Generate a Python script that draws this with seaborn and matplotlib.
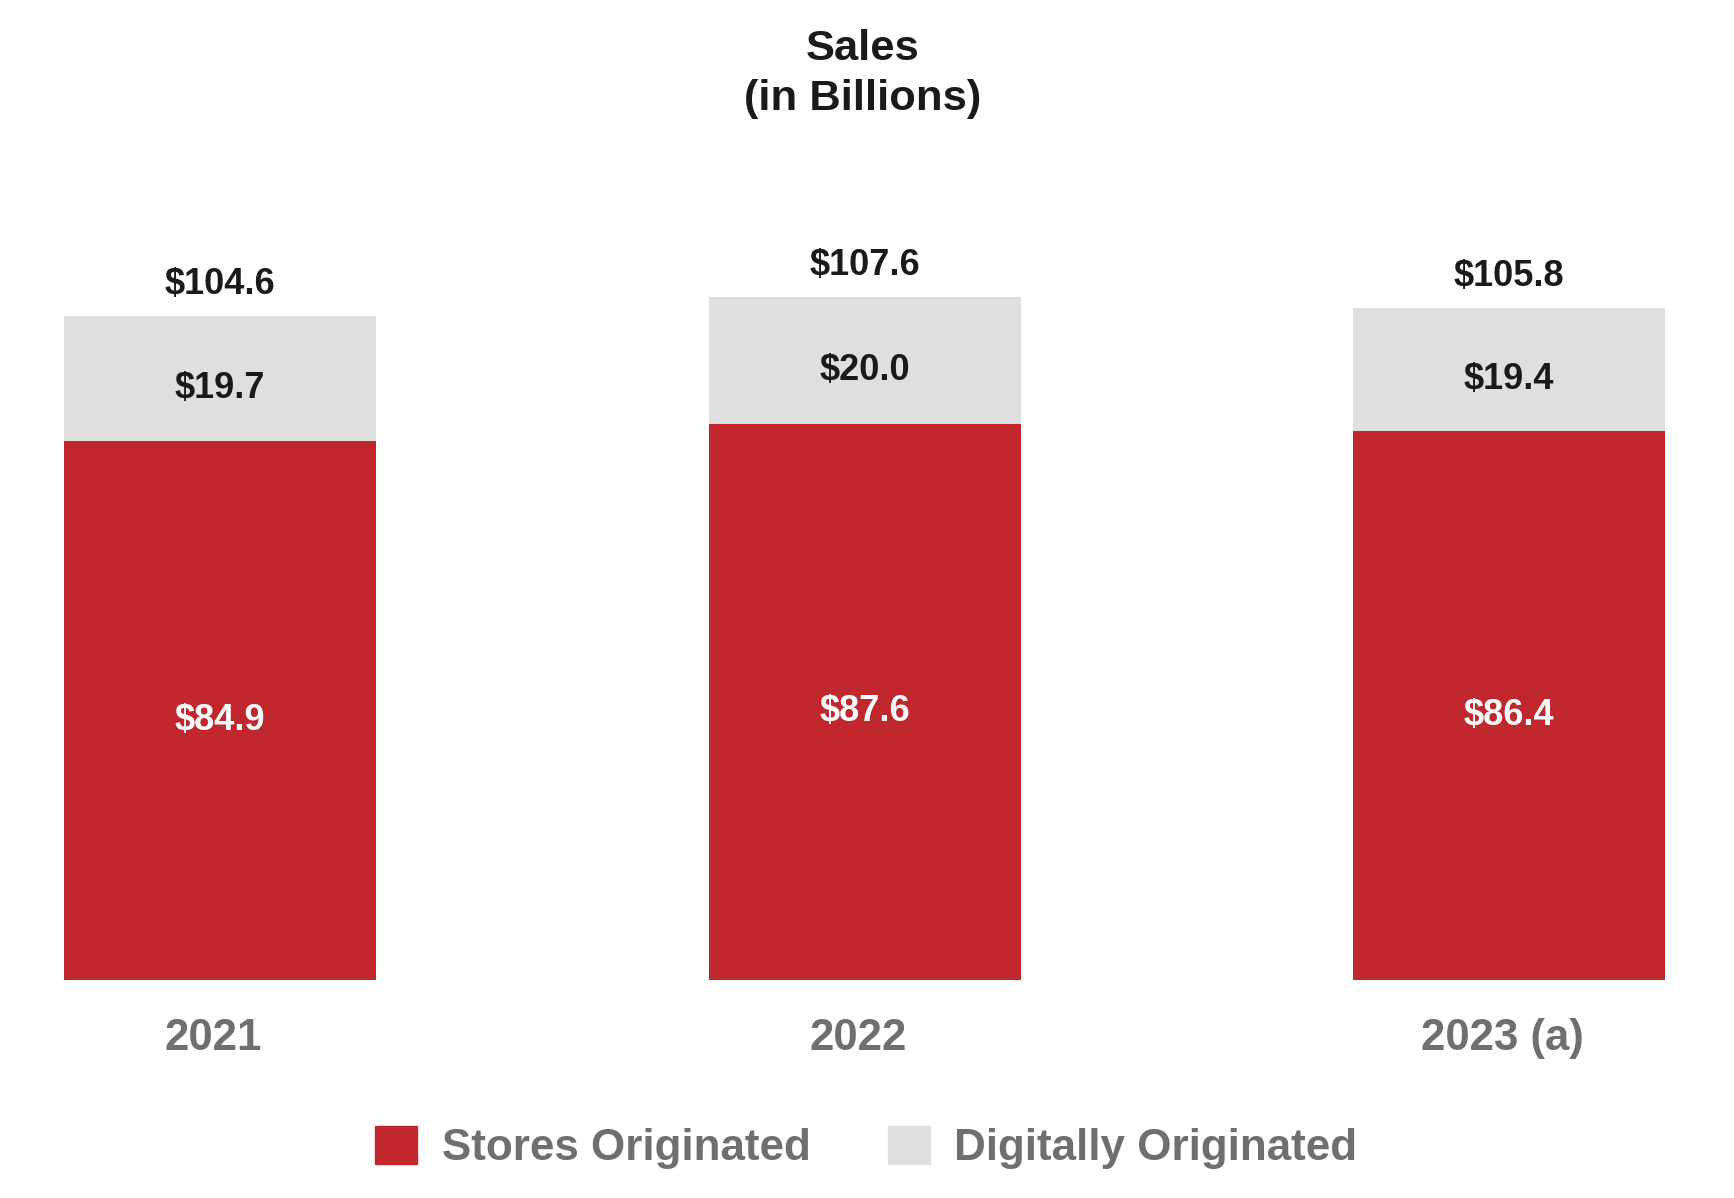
import matplotlib
matplotlib.use("Agg")
import matplotlib.pyplot as plt
import matplotlib.patches as mpatches
import pandas as pd
import seaborn as sns

years = ["2021", "2022", "2023 (a)"]
stores = [84.9, 87.6, 86.4]
digital = [19.7, 20.0, 19.4]
totals = [104.6, 107.6, 105.8]

RED = "#C1282D"
GRAY = "#DFDFDF"
TEXT_GRAY = "#6F6F6F"
TEXT_DARK = "#1A1A1A"

sns.set_style("white")
plt.rcParams["font.family"] = ["Liberation Sans", "DejaVu Sans"]

df = pd.DataFrame({"year": years, "stores": stores, "digital": digital, "total": totals})

fig = plt.figure(figsize=(17.34, 11.98), dpi=100)
ax = fig.add_axes([0.01539, 0.1822, 0.9664, 0.689])

# stacked look: full total bar in gray, stores part drawn over it in red
sns.barplot(data=df, x="year", y="total", color=GRAY, width=0.484, saturation=1,
            linewidth=0, ax=ax)
sns.barplot(data=df, x="year", y="stores", color=RED, width=0.484, saturation=1,
            linewidth=0, ax=ax)

ax.set_xlim(-0.3, 2.3)
ax.set_ylim(0, 130)
ax.set_xlabel("")
ax.set_ylabel("")
ax.set_xticks([])
ax.set_yticks([])
sns.despine(ax=ax, left=True, bottom=True)

for i, row in df.iterrows():
    ax.text(i, row["stores"] / 2 - 3.1, f"${row['stores']:.1f}", ha="center", va="baseline",
            color="white", fontsize=26, fontweight="bold")
    ax.text(i, row["stores"] + row["digital"] / 2 - 3.1, f"${row['digital']:.1f}",
            ha="center", va="baseline", color=TEXT_DARK, fontsize=26, fontweight="bold")
    ax.text(i, row["total"] + 3.4, f"${row['total']:.1f}", ha="center", va="baseline",
            color=TEXT_DARK, fontsize=26, fontweight="bold")
    ax.text(i - 0.0106, -11.07, row["year"], ha="center", va="baseline", color=TEXT_GRAY,
            fontsize=31.5, fontweight="bold", clip_on=False)

fig.text(0.4975, 0.9499, "Sales", ha="center", va="baseline", fontsize=31.3,
         fontweight="bold", color=TEXT_DARK)
fig.text(0.4975, 0.9082, "(in Billions)", ha="center", va="baseline", fontsize=31.3,
         fontweight="bold", color=TEXT_DARK)

handles = [mpatches.Patch(color=RED, label="Stores Originated"),
           mpatches.Patch(color=GRAY, label="Digitally Originated")]
leg = fig.legend(handles=handles, loc="center", bbox_to_anchor=(0.4995, 0.042), ncol=2,
                 frameon=False, fontsize=31.7, handlelength=0.96, handleheight=0.96,
                 handletextpad=0.55, columnspacing=1.75)
for t in leg.get_texts():
    t.set_color(TEXT_GRAY)
    t.set_fontweight("bold")

fig.savefig("out.png", dpi=100)
